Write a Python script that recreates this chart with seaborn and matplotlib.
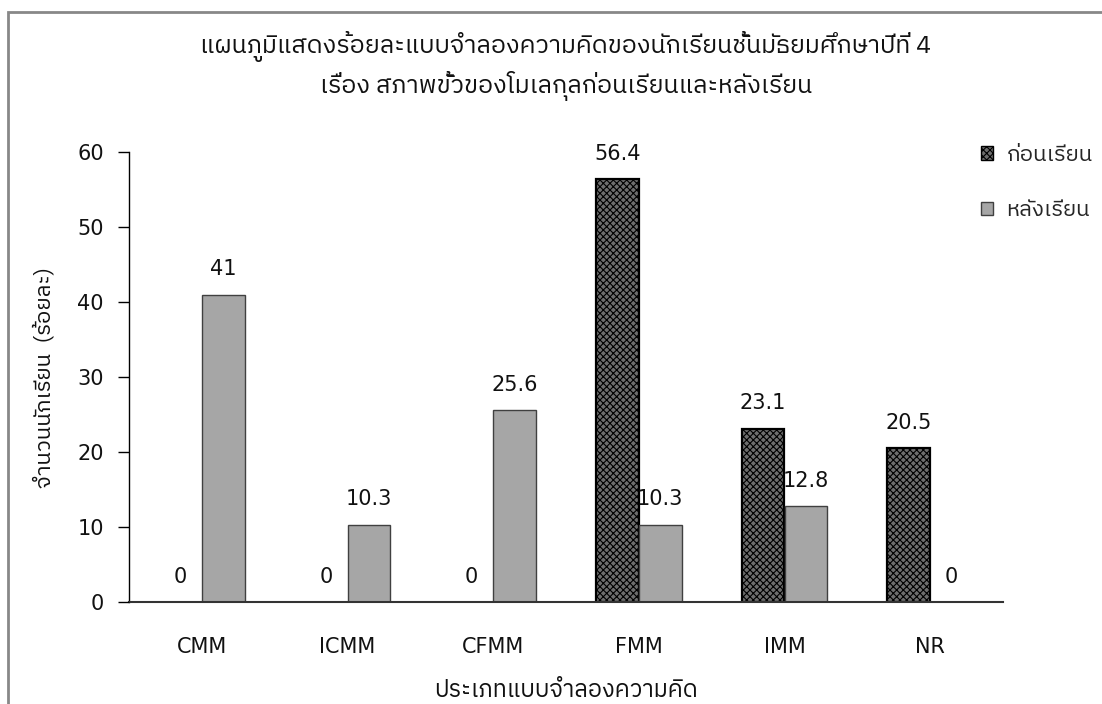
import pandas as pd
import matplotlib
matplotlib.use("Agg")
import matplotlib.pyplot as plt
import seaborn as sns
from matplotlib import font_manager
from matplotlib.ft2font import FT2Font
from matplotlib.patches import Patch, Rectangle

categories = ["CMM", "ICMM", "CFMM", "FMM", "IMM", "NR"]
before = [0, 0, 0, 56.4, 23.1, 20.5]
after = [41, 10.3, 25.6, 10.3, 12.8, 0]
series_names = ["ก่อนเรียน", "หลังเรียน"]

title = ("แผนภูมิแสดงร้อยละแบบจำลองความคิดของนักเรียนชั้นมัธยมศึกษาปีที่ 4\n"
         "เรื่อง สภาพขั้วของโมเลกุลก่อนเรียนและหลังเรียน")
xlabel = "ประเภทแบบจำลองความคิด"
ylabel = "จำนวนนักเรียน  (ร้อยละ)"


def find_thai_fonts():
    names = []
    for f in font_manager.fontManager.ttflist:
        try:
            if 0x0E01 in FT2Font(f.fname).get_charmap() and f.name not in names:
                names.append(f.name)
        except Exception:
            pass
    # prefer sans families
    names.sort(key=lambda n: (0 if "Sans" in n else 1, n))
    return names


thai = find_thai_fonts()

sns.set_theme(style="white")
plt.rcParams["font.family"] = thai[:1] + ["DejaVu Sans"]
plt.rcParams["hatch.linewidth"] = 0.8
latin = "DejaVu Sans"

df = pd.DataFrame({
    "type": categories * 2,
    "pct": before + after,
    "phase": [series_names[0]] * 6 + [series_names[1]] * 6,
})

fig = plt.figure(figsize=(11.02, 7.04), dpi=100)
ax = fig.add_axes([129 / 1102, 1 - 602 / 704, 874 / 1102, 450 / 704])

sns.barplot(data=df, x="type", y="pct", hue="phase", order=categories,
            hue_order=series_names, palette=["#6e6e6e", "#a6a6a6"],
            width=0.59, legend=False, ax=ax)

hatched, plain = ax.containers[0], ax.containers[1]
for p in hatched:
    p.set_hatch("xxxxx")
    p.set_edgecolor("black")
    p.set_linewidth(1.6)
for p in plain:
    p.set_edgecolor("#404040")
    p.set_linewidth(1.0)
# zero-height bars leave no outline
for p in list(hatched) + list(plain):
    if p.get_height() == 0:
        p.set_linewidth(0)

for cont, vals in zip([hatched, plain], [before, after]):
    ax.bar_label(cont, labels=[f"{v:g}" for v in vals], padding=11,
                 fontsize=15, family=latin, color="#111111")

ax.set_ylim(0, 60)
ax.set_xlim(-0.5, 5.5)
ax.set_yticks(range(0, 61, 10))
sns.despine(ax=ax)
ax.spines["left"].set_color("black")
ax.spines["bottom"].set_color("#333333")
ax.spines["left"].set_linewidth(1.0)
ax.spines["bottom"].set_linewidth(1.5)
ax.set_axisbelow(False)
ax.tick_params(axis="y", left=True, length=8, width=1, color="black",
               labelsize=15, pad=10, labelcolor="#111111")
ax.tick_params(axis="x", bottom=False, labelsize=15, pad=19,
               labelcolor="#111111")
for lab in ax.get_xticklabels() + ax.get_yticklabels():
    lab.set_family(latin)

ax.set_xlabel(xlabel, fontsize=17, va="center", color="#111111")
ax.xaxis.set_label_coords(0.5, -0.196)
ax.set_ylabel(ylabel, fontsize=16, va="center", color="#111111")
ax.yaxis.set_label_coords(-0.097, 0.5)

fig.text(566 / 1102, 1 - 66 / 704, title, ha="center", va="center",
         fontsize=18, linespacing=1.45, color="#111111")

handles = [Patch(facecolor="#6e6e6e", edgecolor="black", hatch="xxxxx"),
           Patch(facecolor="#a6a6a6", edgecolor="#404040")]
fig.legend(handles, series_names, loc="upper left",
           bbox_to_anchor=(981 / 1102, 1 - 144 / 704), frameon=False,
           fontsize=16, handlelength=0.55, handleheight=0.55,
           handletextpad=0.6, labelspacing=1.5, borderpad=0, borderaxespad=0)

fig.add_artist(Rectangle((8 / 1102, -0.1), 1.2, 1.1 - 12 / 704,
                         transform=fig.transFigure, fill=False,
                         edgecolor="#888888", linewidth=2, clip_on=False))

fig.savefig("out.png", dpi=100)
